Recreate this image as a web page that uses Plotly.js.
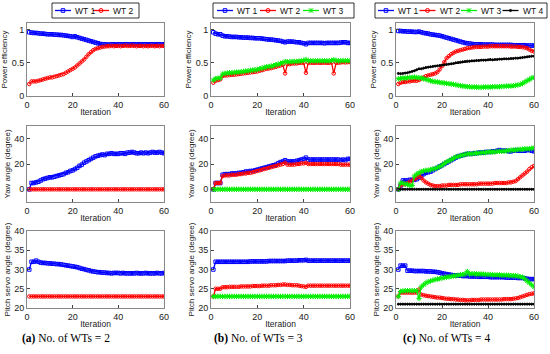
<!DOCTYPE html>
<html>
<head>
<meta charset="utf-8">
<script src="https://cdn.plot.ly/plotly-3.0.1.min.js"></script>
<style>html,body{margin:0;padding:0;background:#fff;}#chart{width:550px;height:354px;}</style>
</head>
<body>
<div id="chart"></div>
<script>
const iteration = [1,2,3,4,5,6,7,8,9,10,11,12,13,14,15,16,17,18,19,20,21,22,23,24,25,26,27,28,29,30,31,32,33,34,35,36,37,38,39,40,41,42,43,44,45,46,47,48,49,50,51,52,53,54,55,56,57,58,59,60];
const seriesNames = ["WT 1","WT 2","WT 3","WT 4"];
const captions = ["<b>(a)</b> No. of WTs = 2","<b>(b)</b> No. of WTs = 3","<b>(c)</b> No. of WTs = 4"];
const rowTitles = ["Power efficiency","Yaw angle (degree)","Pitch servo angle (degree)"];
const xTicks = [0,20,40,60];
const yTicksPower = [0,0.5,1];
const yTicksYaw = [0,20,40];
const yTicksPitch = [20,25,30,35,40];

// (a) 2 WTs
const powerA_WT1 = [0.96,0.955,0.95,0.95,0.945,0.94,0.94,0.935,0.93,0.93,0.93,0.925,0.925,0.92,0.92,0.915,0.91,0.905,0.90,0.89,0.90,0.885,0.875,0.865,0.855,0.845,0.835,0.825,0.815,0.805,0.795,0.785,0.78,0.78,0.775,0.775,0.78,0.78,0.775,0.78,0.78,0.775,0.78,0.78,0.775,0.78,0.78,0.775,0.78,0.775,0.78,0.78,0.775,0.78,0.78,0.775,0.78,0.78,0.775,0.78];
const powerA_WT2 = [0.18,0.22,0.22,0.22,0.23,0.24,0.25,0.26,0.27,0.28,0.28,0.29,0.30,0.31,0.32,0.33,0.35,0.37,0.39,0.41,0.43,0.46,0.49,0.52,0.55,0.59,0.63,0.66,0.69,0.71,0.72,0.73,0.74,0.745,0.75,0.75,0.755,0.75,0.755,0.755,0.75,0.755,0.76,0.755,0.755,0.76,0.755,0.75,0.755,0.755,0.75,0.755,0.75,0.755,0.755,0.75,0.755,0.75,0.755,0.755];
const yawA_WT1 = [0,5,5,5.5,6,7,8,8.5,9,9.5,9.5,10,10.5,11,11.5,12,13,13.5,14.5,15,16,17,18.5,19.5,21,22,23,24,25,26,26.5,27,27.5,27,28,28,28.5,28,28,28,28.5,28.5,28,29,29,29.5,29,28.5,28.5,29,28.5,29,28.5,29,29.5,29,29,29.5,29,28.5];
const yawA_WT2 = [0,0,0,0,0,0,0,0,0,0,0,0,0,0,0,0,0,0,0,0,0,0,0,0,0,0,0,0,0,0,0,0,0,0,0,0,0,0,0,0,0,0,0,0,0,0,0,0,0,0,0,0,0,0,0,0,0,0,0,0];
const pitchA_WT1 = [30,32,32,32.3,32,31.8,31.7,31.7,31.6,31.6,31.5,31.5,31.4,31.4,31.3,31.2,31.1,31,30.9,30.8,30.7,30.6,30.4,30.2,30.1,29.9,29.8,29.6,29.5,29.4,29.3,29.3,29.2,29.2,29.1,29.1,29,29.1,29.1,29.1,29,29.1,29,29,29,29,29,29.1,29,29,29,29.1,29,29,29,29,29.1,29,29,29.1];
const pitchA_WT2 = [23,23,23,23,23,23,23,23,23,23,23,23,23,23,23,23,23,23,23,23,23,23,23,23,23,23,23,23,23,23,23,23,23,23,23,23,23,23,23,23,23,23,23,23,23,23,23,23,23,23,23,23,23,23,23,23,23,23,23,23];

// (b) 3 WTs
const powerB_WT1 = [0.96,0.94,0.93,0.93,0.91,0.90,0.90,0.895,0.89,0.89,0.89,0.885,0.885,0.88,0.88,0.88,0.875,0.875,0.87,0.87,0.87,0.865,0.86,0.855,0.85,0.85,0.845,0.84,0.835,0.83,0.82,0.81,0.82,0.82,0.82,0.815,0.81,0.81,0.80,0.795,0.78,0.80,0.80,0.80,0.80,0.80,0.80,0.80,0.795,0.80,0.80,0.80,0.80,0.80,0.80,0.805,0.81,0.81,0.80,0.80];
const powerB_WT2 = [0.20,0.23,0.24,0.25,0.30,0.31,0.31,0.315,0.32,0.32,0.325,0.33,0.335,0.34,0.345,0.35,0.355,0.36,0.365,0.37,0.38,0.39,0.40,0.41,0.415,0.42,0.43,0.44,0.45,0.46,0.47,0.34,0.48,0.48,0.49,0.49,0.49,0.50,0.50,0.50,0.35,0.50,0.50,0.50,0.50,0.50,0.50,0.50,0.50,0.50,0.50,0.505,0.34,0.50,0.50,0.505,0.51,0.505,0.51,0.51];
const powerB_WT3 = [0.24,0.26,0.27,0.27,0.33,0.34,0.345,0.35,0.35,0.355,0.36,0.36,0.365,0.37,0.375,0.38,0.385,0.39,0.395,0.40,0.41,0.42,0.43,0.44,0.445,0.45,0.46,0.47,0.48,0.49,0.50,0.52,0.515,0.515,0.52,0.52,0.52,0.525,0.53,0.535,0.55,0.53,0.53,0.53,0.53,0.53,0.53,0.53,0.53,0.53,0.53,0.535,0.545,0.535,0.53,0.53,0.535,0.53,0.535,0.53];
const yawB_WT1 = [0,5,5,5,11.5,12,12,12,12.5,12.5,12.5,13,13,13.5,14,14,14.5,14.5,15,15.5,16,16.5,17,17.5,18,18.5,19,19.5,20.5,21.5,22,23,22,22,22,22,22.5,23,23.5,24,25,23.5,23.5,23.5,23.5,23.5,23.5,23.5,23.5,23.5,23.5,23.5,23.5,23.5,23.5,23,23.5,23,24,24];
const yawB_WT2 = [0,5,5,5,10.5,11,11,11,11.5,11.5,11.5,12,12,12.5,12.5,13,13,13.5,14,14.5,15,15.5,16,16.5,17,17.5,18,18.5,19,19.5,20,21,19.5,19.5,19.5,19.5,20,20,20.5,20.5,21,20,20,20,20,20,20,20,20,20,20,20,20,20,20,19.5,19.5,19.5,19.5,19.5];
const yawB_WT3 = [0,0,0,0,0,0,0,0,0,0,0,0,0,0,0,0,0,0,0,0,0,0,0,0,0,0,0,0,0,0,0,0,0,0,0,0,0,0,0,0,0,0,0,0,0,0,0,0,0,0,0,0,0,0,0,0,0,0,0,0];
const pitchB_WT1 = [30,32,32,32,32,32,32,32,32,32,32,32,32,32,32,32,32.1,32.1,32.1,32.1,32.1,32.1,32.1,32.1,32.2,32.2,32.2,32.2,32.2,32.2,32.2,32.2,32.3,32.3,32.3,32.3,32.3,32.4,32.4,32.4,32.5,32.3,32.3,32.3,32.3,32.3,32.3,32.3,32.3,32.3,32.3,32.3,32.3,32.3,32.3,32.3,32.3,32.3,32.3,32.3];
const pitchB_WT2 = [23,25,25,25,25.4,25.4,25.4,25.5,25.5,25.5,25.5,25.5,25.6,25.6,25.6,25.6,25.6,25.7,25.7,25.7,25.7,25.8,25.8,25.8,25.8,25.9,25.9,25.9,26,26,26.1,26.1,26,26,25.9,25.9,25.9,25.8,25.7,25.6,25.5,25.8,25.8,25.8,25.8,25.8,25.8,25.8,25.8,25.8,25.8,25.8,25.8,25.8,25.8,25.8,25.8,25.8,25.8,25.8];
const pitchB_WT3 = [23,23,23,23,23,23,23,23,23,23,23,23,23,23,23,23,23,23,23,23,23,23,23,23,23,23,23,23,23,23,23,23,23,23,23,23,23,23,23,23,23,23,23,23,23,23,23,23,23,23,23,23,23,23,23,23,23,23,23,23];

// (c) 4 WTs
const powerC_WT1 = [0.98,0.98,0.975,0.975,0.97,0.97,0.97,0.965,0.965,0.97,0.96,0.95,0.945,0.94,0.93,0.925,0.92,0.915,0.91,0.90,0.89,0.88,0.87,0.86,0.85,0.84,0.83,0.82,0.81,0.80,0.795,0.79,0.785,0.78,0.78,0.78,0.78,0.775,0.775,0.775,0.775,0.775,0.77,0.77,0.77,0.77,0.77,0.77,0.77,0.77,0.765,0.765,0.765,0.765,0.765,0.765,0.76,0.76,0.76,0.76];
const powerC_WT2 = [0.18,0.20,0.21,0.21,0.22,0.22,0.23,0.23,0.23,0.24,0.26,0.28,0.30,0.31,0.32,0.33,0.34,0.36,0.40,0.45,0.51,0.57,0.60,0.63,0.65,0.67,0.68,0.69,0.70,0.71,0.72,0.725,0.73,0.735,0.74,0.74,0.74,0.745,0.745,0.745,0.75,0.75,0.75,0.75,0.75,0.75,0.75,0.75,0.75,0.745,0.745,0.745,0.74,0.74,0.735,0.73,0.72,0.70,0.68,0.67];
const powerC_WT3 = [0.26,0.265,0.27,0.27,0.275,0.28,0.28,0.285,0.28,0.275,0.27,0.26,0.25,0.24,0.23,0.22,0.215,0.21,0.205,0.20,0.195,0.19,0.185,0.18,0.175,0.17,0.16,0.155,0.15,0.145,0.14,0.14,0.135,0.135,0.135,0.13,0.13,0.135,0.135,0.135,0.135,0.14,0.14,0.14,0.14,0.145,0.145,0.15,0.15,0.15,0.155,0.16,0.165,0.175,0.19,0.21,0.23,0.25,0.27,0.28];
const powerC_WT4 = [0.34,0.335,0.34,0.345,0.35,0.36,0.37,0.38,0.395,0.41,0.41,0.42,0.43,0.435,0.44,0.445,0.45,0.455,0.46,0.465,0.47,0.475,0.48,0.485,0.49,0.50,0.505,0.51,0.515,0.52,0.525,0.525,0.53,0.53,0.535,0.535,0.54,0.54,0.54,0.545,0.55,0.545,0.55,0.55,0.555,0.555,0.56,0.56,0.56,0.565,0.565,0.57,0.57,0.575,0.58,0.585,0.59,0.595,0.60,0.60];
const yawC_WT1 = [0,3,7,7,7,7.5,7.5,7.5,8,9,10.5,12,13,13.5,14,15,16,17,18,19,20,21,22,23,24,25,26,26.5,27,27.5,28,28,28,28.5,28.5,29,29,29,29.5,29.5,29.5,30,30,30.5,31,30.5,30.5,30.5,30,30,30.5,31,30.5,30.5,30.5,30.5,31,31,30.5,30];
const yawC_WT2 = [0,3,4,4,5,6,7,8,9,11.5,9,7,5.5,4.5,3.5,3,2.5,2.5,2.5,3,3,3,3.5,3.5,3.5,3.5,3.5,4,4,4,4,4,4,4,4,4.5,4.5,4.5,4.5,4.5,4.5,4.5,5,5,5,5,5,5,5.5,5.5,6,6.5,8,9.5,11,12.5,14,16,17.5,18.5];
const yawC_WT3 = [0,5,5,4,4,3,3,10.5,12,13,14,14.5,15,15,15.5,16,16.5,17,18,19,20.5,21.5,22.5,23.5,24.5,25.5,26,26.5,27,27.5,28,28,28,28.5,28.5,28.5,29,29,29,29.5,29.5,29.5,29.5,30,30,30,30,30.5,30.5,31,31,31,31.5,31.5,31.5,32,32,32,32.5,32.5];
const yawC_WT4 = [0,0,0,0,0,0,0,0,0,0,0,0,0,0,0,0,0,0,0,0,0,0,0,0,0,0,0,0,0,0,0,0,0,0,0,0,0,0,0,0,0,0,0,0,0,0,0,0,0,0,0,0,0,0,0,0,0,0,0,0];
const pitchC_WT1 = [30,31,31,31,29.7,29.7,29.7,29.6,29.6,29.6,29.6,29.6,29.5,29.5,29.5,29.4,29.4,29.3,29.2,29,28.9,28.8,28.7,28.6,28.5,28.5,28.4,28.4,28.3,28.3,28.3,28.2,28.2,28.2,28.2,28.1,28.1,28.1,28.1,28.1,28,28,28,28,28,28,28,27.9,27.9,27.9,27.9,27.9,27.8,27.8,27.8,27.7,27.6,27.5,27.5,27.5];
const pitchC_WT2 = [23,24,24,24,24,24,24,24,24,24.8,23.5,23.3,23.2,23.1,23,22.9,22.8,22.7,22.7,22.6,22.5,22.4,22.4,22.3,22.3,22.2,22.2,22.1,22.1,22,22,22,22.1,22.1,22.1,22.1,22.2,22.2,22.2,22.2,22.2,22.2,22.2,22.2,22.2,22.2,22.3,22.3,22.3,22.3,22.4,22.5,22.6,22.8,23,23.2,23.4,23.6,23.7,23.8];
const pitchC_WT3 = [23,24.3,24.4,24.5,24.5,24.5,24.5,24.5,24.5,22.5,25.5,26,26.5,26.8,27,27.2,27.4,27.5,27.6,27.8,27.9,28,28.1,28.2,28.3,28.4,28.5,28.6,28.7,28.8,29.5,28.8,28.9,28.9,28.8,28.8,28.8,28.8,28.7,28.7,28.7,28.6,28.6,28.6,28.6,28.5,28.5,28.5,28.5,28.4,28.4,28.4,28.3,28.1,28,27.6,27,26.5,26,25.5];
const pitchC_WT4 = [21,21,21,21,21,21,21,21,21,21,21,21,21,21,21,21,21,21,21,21,21,21,21,21,21,21,21,21,21,21,21,21,21,21,21,21,21,21,21,21,21,21,21,21,21,21,21,21,21,21,21,21,21,21,21,21,21,21,21,21];

const panels = [
  [[powerA_WT1,powerA_WT2],[powerB_WT1,powerB_WT2,powerB_WT3],[powerC_WT1,powerC_WT2,powerC_WT3,powerC_WT4]],
  [[yawA_WT1,yawA_WT2],[yawB_WT1,yawB_WT2,yawB_WT3],[yawC_WT1,yawC_WT2,yawC_WT3,yawC_WT4]],
  [[pitchA_WT1,pitchA_WT2],[pitchB_WT1,pitchB_WT2,pitchB_WT3],[pitchC_WT1,pitchC_WT2,pitchC_WT3,pitchC_WT4]]
];

const styles = [
  {color:'#0000ff', symbol:'square-open', size:3.5},
  {color:'#ff0000', symbol:'circle-open', size:3.5},
  {color:'#00ee00', symbol:'asterisk-open', size:4.5},
  {color:'#000000', symbol:'circle', size:2}
];

const W = 550, H = 354;
const px = v => v / W;
const py = v => 1 - v / H;
const colPx = [[27,164],[211,350],[396,534]];
const rowPx = [[23,96],[126,202],[231,308]];
const yRanges = [[0,1.1],[-10,50],[20,40]];
const yTickSets = [yTicksPower, yTicksYaw, yTicksPitch];

const traces = [];
const layout = {
  width: W, height: H,
  margin: {l:0,r:0,t:0,b:0},
  paper_bgcolor:'#fff', plot_bgcolor:'#fff',
  font: {family:'Liberation Sans, Arial, sans-serif', size:9, color:'#222'},
  showlegend:false,
  annotations: [],
  shapes: []
};

let k = 0;
for (let r = 0; r < 3; r++) {
  for (let c = 0; c < 3; c++) {
    k++;
    const xa = 'xaxis' + (k === 1 ? '' : k);
    const ya = 'yaxis' + (k === 1 ? '' : k);
    const xid = 'x' + (k === 1 ? '' : k);
    const yid = 'y' + (k === 1 ? '' : k);
    layout[xa] = {
      domain: [px(colPx[c][0]), px(colPx[c][1])], anchor: yid,
      range: [0,60], tickvals: xTicks, ticks:'inside', ticklen:3, tickcolor:'#444',
      showline:true, mirror:true, linecolor:'#888', linewidth:1, showgrid:false, zeroline:false,
      tickfont:{size:9, color:'#222'},
      title:{text:'Iteration', font:{size:8.5, color:'#222'}, standoff:0}
    };
    layout[ya] = {
      domain: [py(rowPx[r][1]), py(rowPx[r][0])], anchor: xid,
      range: yRanges[r], tickvals: yTickSets[r], ticks:'inside', ticklen:3, tickcolor:'#444',
      showline:true, mirror:true, linecolor:'#888', linewidth:1, showgrid:false, zeroline:false,
      tickfont:{size:9, color:'#222'},
      title:{text: rowTitles[r], font:{size:8, color:'#222'}, standoff:2}
    };
    panels[r][c].forEach((vals, i) => {
      const s = styles[i];
      traces.push({
        x: iteration, y: vals, xaxis: xid, yaxis: yid,
        type:'scatter', mode:'lines+markers', name: seriesNames[i],
        line:{color:s.color, width:1.3},
        marker:{color:s.color, symbol:s.symbol, size:s.size, line:{color:s.color, width:1}},
        showlegend:false
      });
    });
  }
}

// Hand-drawn MATLAB-style legend boxes (one per column)
const legendBox = [[52,139],[213,354],[375,547]];
const legendFirst = [55,217,378];
const legendStep = [38,43,41.5];
const legTop = 3, legBot = 18, legMid = 10.5;
for (let c = 0; c < 3; c++) {
  layout.shapes.push({type:'rect', xref:'paper', yref:'paper',
    x0:px(legendBox[c][0]), x1:px(legendBox[c][1]), y0:py(legBot), y1:py(legTop),
    line:{color:'#000', width:0.8}, fillcolor:'#fff', layer:'above'});
  const n = panels[0][c].length;
  for (let i = 0; i < n; i++) {
    const s = styles[i];
    const x0 = legendFirst[c] + i * legendStep[c];
    const cx = x0 + 8;
    layout.shapes.push({type:'line', xref:'paper', yref:'paper',
      x0:px(x0), x1:px(x0+16), y0:py(legMid), y1:py(legMid),
      line:{color:s.color, width:1.3}, layer:'above'});
    if (i === 0) {
      layout.shapes.push({type:'rect', xref:'paper', yref:'paper',
        x0:px(cx-1.8), x1:px(cx+1.8), y0:py(legMid+1.8), y1:py(legMid-1.8),
        line:{color:s.color, width:1}, fillcolor:'rgba(0,0,0,0)', layer:'above'});
    } else if (i === 1) {
      layout.shapes.push({type:'circle', xref:'paper', yref:'paper',
        x0:px(cx-2), x1:px(cx+2), y0:py(legMid+2), y1:py(legMid-2),
        line:{color:s.color, width:1}, fillcolor:'rgba(0,0,0,0)', layer:'above'});
    } else if (i === 2) {
      const d = 2.2;
      const segs = [[cx,legMid-d,cx,legMid+d],[cx-d,legMid-d,cx+d,legMid+d],[cx-d,legMid+d,cx+d,legMid-d]];
      segs.forEach(sg => layout.shapes.push({type:'line', xref:'paper', yref:'paper',
        x0:px(sg[0]), y0:py(sg[1]), x1:px(sg[2]), y1:py(sg[3]),
        line:{color:s.color, width:1}, layer:'above'}));
    } else {
      layout.shapes.push({type:'circle', xref:'paper', yref:'paper',
        x0:px(cx-1.2), x1:px(cx+1.2), y0:py(legMid+1.2), y1:py(legMid-1.2),
        line:{color:s.color, width:0.5}, fillcolor:s.color, layer:'above'});
    }
    layout.annotations.push({text: seriesNames[i], xref:'paper', yref:'paper',
      x:px(x0+18), y:py(legMid), xanchor:'left', yanchor:'middle', showarrow:false,
      font:{family:'Liberation Sans, Arial, sans-serif', size:8.5, color:'#111'}});
  }
}

const capX = [66,258,446];
for (let c = 0; c < 3; c++) {
  layout.annotations.push({
    text: captions[c], xref:'paper', yref:'paper', x: px(capX[c]), y: py(338),
    xanchor:'center', yanchor:'middle', showarrow:false,
    font:{family:'Liberation Serif, Times New Roman, serif', size:11.5, color:'#000'}
  });
}

Plotly.newPlot('chart', traces, layout, {displayModeBar:false, staticPlot:true});
</script>
</body>
</html>
